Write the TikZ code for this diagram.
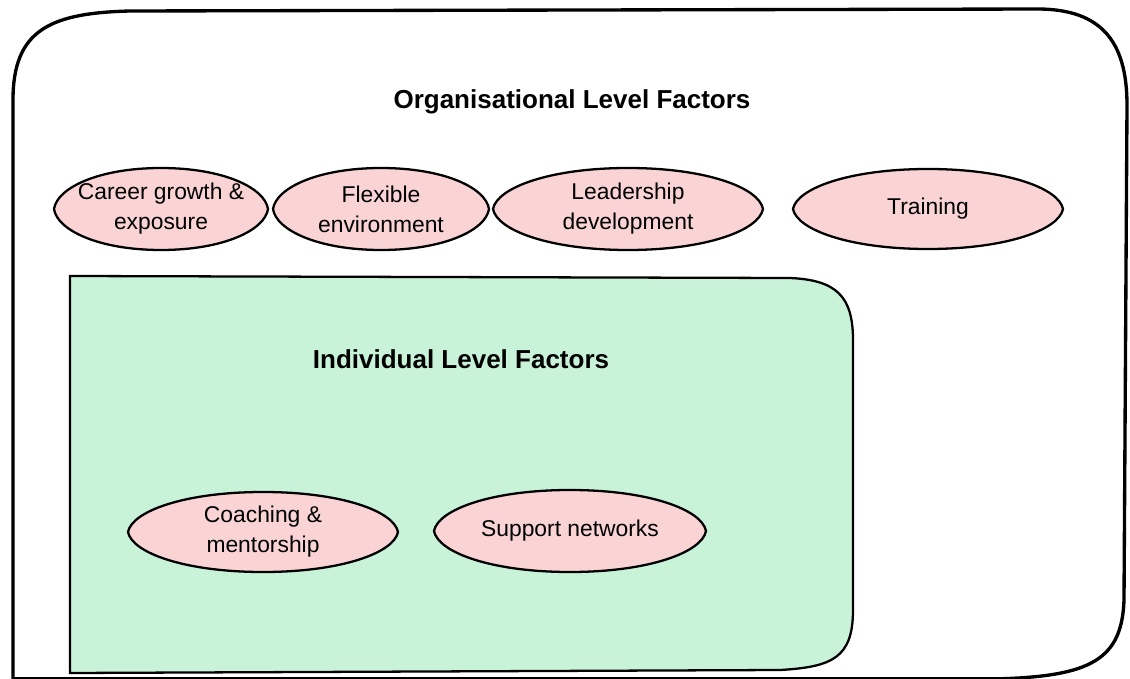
\documentclass[tikz,border=0pt]{standalone}
\usepackage{fontspec}
\setmainfont{Liberation Sans}
\definecolor{factorpink}{RGB}{250,212,212}
\definecolor{levelgreen}{RGB}{200,243,216}
% sketchy ellipse with slightly pointed ends: centre x, centre y, x radius, y radius
\newcommand{\factorlens}[4]{%
  \filldraw[factorshape]({#1-#3},#2) .. controls ({#1-0.97*#3},{#2-0.52*#4}) and ({#1-0.58*#3},{#2-#4}) .. (#1,{#2-#4})
    .. controls ({#1+0.58*#3},{#2-#4}) and ({#1+0.97*#3},{#2-0.52*#4}) .. ({#1+#3},#2)
    .. controls ({#1+0.97*#3},{#2+0.52*#4}) and ({#1+0.58*#3},{#2+#4}) .. (#1,{#2+#4})
    .. controls ({#1-0.58*#3},{#2+#4}) and ({#1-0.97*#3},{#2+0.52*#4}) .. cycle;}

\begin{document}
\begin{tikzpicture}[x=0.02cm,y=-0.02cm,
    factorshape/.style={draw,line width=1.3pt,fill=factorpink},
    factortext/.style={align=center,font=\fontsize{13}{17}\selectfont},
    heading/.style={font=\fontsize{14.8}{18}\selectfont\bfseries}]
    \useasboundingbox (0,0) rectangle (1130,679);
    % outer frame
    \draw[line width=1.9pt](13,678.8)--(13,100) .. controls (13,30) and (50,13) .. (130,11)--(1040,9) .. controls (1100,10) and (1127,40) .. (1127,105)--(1124,600) .. controls (1122,660) and (1090,676) .. (1000,678.8)--cycle;
    \node[heading] (orgtitle) at (572,102) {Organisational Level Factors};
    \factorlens{161}{209}{107}{41}
    \node[factortext] (career) at (161,209) {Career growth \&\\exposure};
    \factorlens{381}{209}{108}{41}
    \node[factortext] (flexible) at (381,209) {Flexible\\environment};
    \factorlens{628}{209}{135}{41}
    \node[factortext] (leadership) at (628,209) {Leadership\\development};
    \factorlens{928}{209}{135}{40}
    \node[factortext] (training) at (928,209) {Training};
    % inner box
    \draw[line width=1.3pt,fill=levelgreen](70,673)--(70,276)--(790,278) .. controls (836,280) and (853,296) .. (853,340)--(853,610) .. controls (853,658) and (832,667) .. (780,670)--cycle;
    \node[heading] (indtitle) at (461,359) {Individual Level Factors};
    \factorlens{263}{532}{135}{40}
    \node[factortext] (coaching) at (263,532) {Coaching \&\\mentorship};
    \factorlens{570}{531}{136}{41}
    \node[factortext] (support) at (570,531) {Support networks};
\end{tikzpicture}
\end{document}
